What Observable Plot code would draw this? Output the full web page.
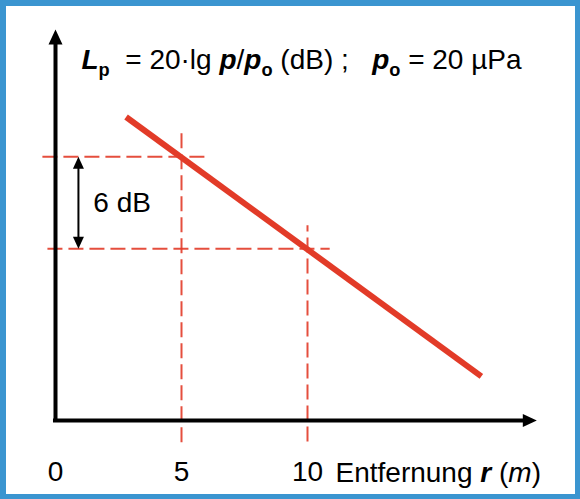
<!DOCTYPE html>
<html><head><meta charset="utf-8">
<script src="https://cdn.jsdelivr.net/npm/d3@7"></script>
<script src="https://cdn.jsdelivr.net/npm/@observablehq/plot@0.6"></script>
<style>
body{margin:0;background:#fff}
#wrap{position:relative;width:580px;height:499px}
#wrap svg{display:block}
#border{position:absolute;left:0;top:0;width:580px;height:499px;box-sizing:border-box;border:5px solid #3b95d0;border-top-width:6px;border-left-width:6px;pointer-events:none}
</style>
</head><body><div id="wrap"><div id="chart"></div><div id="border"></div></div>
<script>
// ---- data ----
const lineDistance = [2.8, 16.9];      // r (m) at the ends of the level line
const lineLevel = [19.8, 2.88];        // L_p (dB) at those ends
const refDistance = [5, 10];           // marked distances
const refLevel = [17.2, 11.2];         // levels at those distances (6 dB apart)
const hDashStart = [-0.5, -0.3];       // horizontal guide start (r)
const hDashEnd = [6.0, 10.9];          // horizontal guide end (r)
const vDashTop = [19.1, 12.7];         // vertical guide top (dB)
const vDashBottom = [-1.45, -1.4];     // vertical guide bottom (dB)
const axisXEnd = [19.1];               // x-axis arrow tip (r)
const axisYEnd = [25.5];               // y-axis arrow tip (dB)
const xTicks = [0, 5, 10];
const xTickLabels = ["0", "5", "10"];
const diffArrowR = [0.91];
const diffLabel = ["6 dB"];
const titleParts = [
  {t:"L", b:1, i:1}, {t:"p", b:1, sub:1}, {t:"  = 20·lg "}, {t:"p", b:1, i:1}, {t:"/"},
  {t:"p", b:1, i:1}, {t:"o", b:1, sub:1}, {t:" (dB) ;   "}, {t:"p", b:1, i:1},
  {t:"o", b:1, sub:1}, {t:" = 20 µPa"}
];
const xLabelParts = [{t:"Entfernung "}, {t:"r", b:1, i:1}, {t:" ("}, {t:"m", i:1}, {t:")"}];

// ---- derived tables ----
const lineData = lineDistance.map((r, k) => ({r, L: lineLevel[k]}));
const hDash = refLevel.map((L, k) => ({L, x1: hDashStart[k], x2: hDashEnd[k]}));
const vDash = refDistance.map((r, k) => ({r, y1: vDashBottom[k], y2: vDashTop[k]}));

const RED = "#e23b28";
const FONT = "Liberation Sans, Arial, Helvetica, sans-serif";
const FS = 28;

const arrowUp = {draw(c){ c.moveTo(0,0); c.lineTo(7,15); c.lineTo(-7,15); c.closePath(); }};
const arrowRight = {draw(c){ c.moveTo(0,0); c.lineTo(-14,-6.5); c.lineTo(-14,6.5); c.closePath(); }};
const smallUp = {draw(c){ c.moveTo(0,0); c.lineTo(5.5,12); c.lineTo(-5.5,12); c.closePath(); }};
const smallDown = {draw(c){ c.moveTo(0,0); c.lineTo(5.5,-12); c.lineTo(-5.5,-12); c.closePath(); }};

const chart = Plot.plot({
  width: 580, height: 499,
  marginTop: 0, marginLeft: 0, marginRight: 0, marginBottom: 79,
  style: {fontFamily: FONT, background: "#fff", color: "#000"},
  x: {domain: [0, 20], range: [55, 559], axis: null},
  y: {domain: [0, 27.4], range: [420, 0], axis: null},
  marks: [
    // dashed guides
    Plot.ruleY(hDash, {y: "L", x1: "x1", x2: "x2", stroke: RED, strokeWidth: 2, strokeDasharray: "15,6", strokeOpacity: 0.9}),
    Plot.ruleX(vDash, {x: "r", y1: "y1", y2: "y2", stroke: RED, strokeWidth: 2, strokeDasharray: "15,6", strokeOpacity: 0.9}),
    // axes
    Plot.ruleX([0], {y1: -0.13, y2: axisYEnd[0] - 0.6, stroke: "#000", strokeWidth: 4}),
    Plot.ruleY([0], {x1: -0.08, x2: axisXEnd[0] - 0.4, stroke: "#000", strokeWidth: 4}),
    Plot.dot(axisYEnd, {x: 0, y: d => d, symbol: arrowUp, fill: "#000", stroke: null}),
    Plot.dot(axisXEnd, {x: d => d, y: 0, symbol: arrowRight, fill: "#000", stroke: null}),
    // level line
    Plot.line(lineData, {x: "r", y: "L", stroke: RED, strokeWidth: 6, strokeLinecap: "butt"}),
    // 6 dB difference arrow
    Plot.ruleX(diffArrowR, {x: d => d, y1: refLevel[1] + 0.6, y2: refLevel[0] - 0.6, stroke: "#000", strokeWidth: 2}),
    Plot.dot(diffArrowR, {x: d => d, y: refLevel[0], symbol: smallUp, fill: "#000", stroke: null}),
    Plot.dot(diffArrowR, {x: d => d, y: refLevel[1], symbol: smallDown, fill: "#000", stroke: null}),
    Plot.text(diffLabel, {x: 1.5, y: (refLevel[0] + refLevel[1]) / 2, text: d => d, textAnchor: "start", lineAnchor: "middle", fontSize: FS, fill: "#000"}),
    // title formula
    Plot.text(["__TITLE__"], {x: 1.03, y: 22.9, text: d => d, textAnchor: "start", lineAnchor: "bottom", fontSize: FS, fill: "#000"}),
    // x tick labels
    Plot.axisX({ticks: xTicks, tickFormat: (d) => xTickLabels[xTicks.indexOf(d)], tickSize: 0, tickPadding: 41, fontSize: FS, label: null, color: "#000"}),
    // x axis label
    Plot.text(["__XLABEL__"], {x: 10, y: -3.98, dx: 28, text: d => d, textAnchor: "start", lineAnchor: "bottom", fontSize: FS, fill: "#000"})
  ]
});
document.getElementById("chart").appendChild(chart);

function richText(el, parts, size) {
  while (el.firstChild) el.removeChild(el.firstChild);
  el.style.whiteSpace = "pre";
  let shift = 0;
  for (const p of parts) {
    const ts = document.createElementNS("http://www.w3.org/2000/svg", "tspan");
    ts.textContent = p.t;
    if (p.b) ts.setAttribute("font-weight", "bold");
    if (p.i) ts.setAttribute("font-style", "italic");
    const want = p.sub ? size * 0.25 : 0;
    if (want !== shift) { ts.setAttribute("dy", want - shift); shift = want; }
    if (p.sub) ts.setAttribute("font-size", size * 0.65);
    el.appendChild(ts);
  }
}
chart.querySelectorAll("text").forEach(el => {
  if (el.textContent === "__TITLE__") richText(el, titleParts, FS);
  else if (el.textContent === "__XLABEL__") richText(el, xLabelParts, FS);
});
</script>
</body></html>
